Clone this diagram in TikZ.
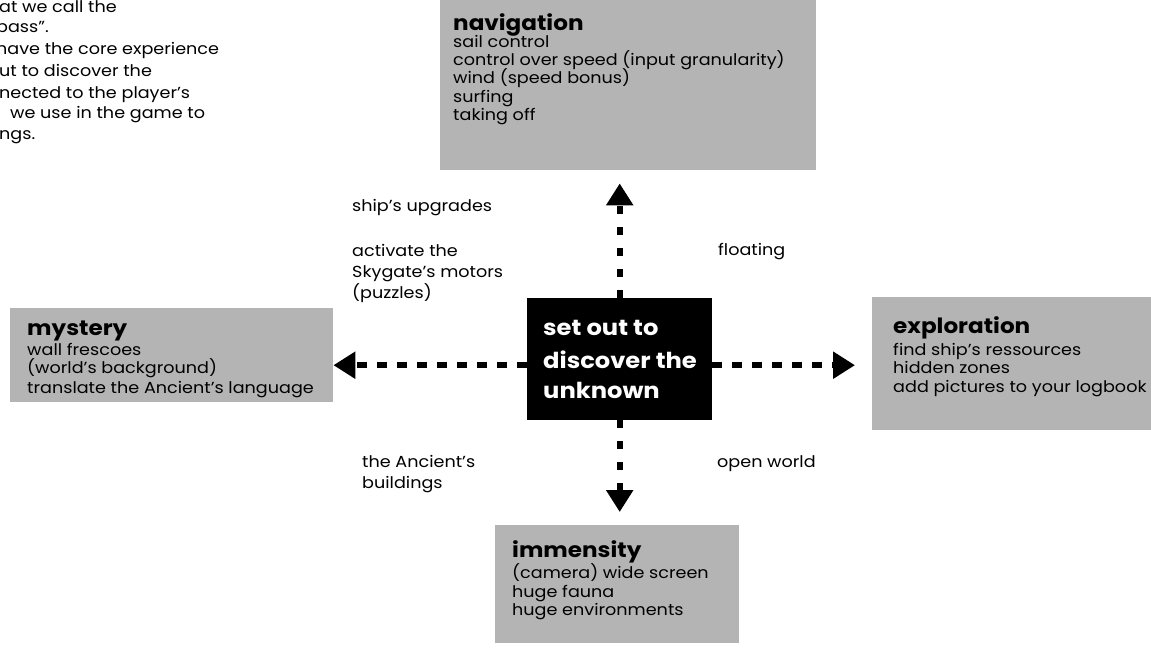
\documentclass[tikz,border=0pt]{standalone}
\usepackage{fontspec}
\setmainfont{Poppins}[FakeStretch=1.1]
\usetikzlibrary{arrows.meta}
\definecolor{boxgray}{RGB}{180,180,180}
\begin{document}
\begin{tikzpicture}[x=1pt,y=-1pt,
  box/.style={fill=boxgray, draw=none, anchor=north west, inner sep=0pt},
  core/.style={fill=black, draw=none, anchor=north west, inner sep=0pt},
  body/.style={anchor=base west, inner sep=0pt, font=\fontsize{16}{16}\selectfont},
  head/.style={anchor=base west, inner sep=0pt, font=\fontsize{21}{21}\selectfont\bfseries},
  coretext/.style={anchor=base west, inner sep=0pt, text=white, font=\fontsize{22}{22}\selectfont\bfseries},
  harr/.style={line width=6pt, dash pattern=on 10pt off 10pt, -{Triangle[length=22pt,width=26pt]}},
  varr/.style={line width=6pt, dash pattern=on 8pt off 13pt, -{Triangle[length=22pt,width=26pt]}}
]
\useasboundingbox (0,0) rectangle (1151,648);
\clip (0,0) rectangle (1151,648);

% boxes
\node[box, minimum width=376pt, minimum height=170pt] (nav) at (440,0) {};
\node[box, minimum width=323pt, minimum height=94pt] (myst) at (10,308) {};
\node[box, minimum width=279pt, minimum height=133pt] (expl) at (872,297) {};
\node[box, minimum width=244pt, minimum height=118pt] (imm) at (495,525) {};
\node[core, minimum width=185pt, minimum height=122pt] (ctr) at (527,298) {};

% intro text (cut at the left edge)
\node[body] (i1) at (-1,12) {at we call the};
\node[body] (i2) at (-4,32) {pass”.};
\node[body] (i3) at (-4,54) {have the core experience};
\node[body] (i4) at (-1,76) {ut to discover the};
\node[body] (i5) at (-1,98) {nected to the player’s};
\node[body] (i6) at (10,118) {we use in the game to};
\node[body] (i7) at (-1,139) {ngs.};

% navigation
\node[head] (navh) at (453,30) {navigation};
\node[body] (nav1) at (453,47) {sail control};
\node[body] (nav2) at (453,65) {control over speed (input granularity)};
\node[body] (nav3) at (453,83) {wind (speed bonus)};
\node[body] (nav4) at (453,102) {surfing};
\node[body] (nav5) at (453,120) {taking off};

% mystery
\node[head] (mysth) at (27,335) {mystery};
\node[body] (myst1) at (27,355) {wall frescoes};
\node[body] (myst2) at (27,373) {(world’s background)};
\node[body] (myst3) at (27,393) {translate the Ancient’s language};

% exploration
\node[head] (explh) at (893,333) {exploration};
\node[body] (expl1) at (893,355) {find ship’s ressources};
\node[body] (expl2) at (893,373) {hidden zones};
\node[body] (expl3) at (893,392) {add pictures to your logbook};

% immensity
\node[head] (immh) at (512,557) {immensity};
\node[body] (imm1) at (512,578) {(camera) wide screen};
\node[body] (imm2) at (512,597) {huge fauna};
\node[body] (imm3) at (512,615) {huge environments};

% core
\node[coretext] (c1) at (543,335) {set out to};
\node[coretext] (c2) at (543,368) {discover the};
\node[coretext] (c3) at (543,398) {unknown};

% labels
\node[body] (l1) at (352,211) {ship’s upgrades};
\node[body] (l2) at (352,256) {activate the};
\node[body] (l3) at (352,277) {Skygate’s motors};
\node[body] (l4) at (352,298) {(puzzles)};
\node[body] (l5) at (718,255) {floating};
\node[body] (l6) at (362,467) {the Ancient’s};
\node[body] (l7) at (362,488) {buildings};
\node[body] (l8) at (717,467) {open world};

% connectors
\draw[harr] ([yshift=-6pt]ctr.west) -- ([yshift=-6pt]ctr.west -| myst.east);
\draw[harr, shorten >=17pt] ([yshift=-6pt]ctr.east) -- ([yshift=-6pt]ctr.east -| expl.west);
\draw[varr, shorten >=13pt] (ctr.north) -- (ctr.north |- nav.south);
\draw[varr, shorten >=13pt] (ctr.south) -- (ctr.south |- imm.north);
\end{tikzpicture}
\end{document}
